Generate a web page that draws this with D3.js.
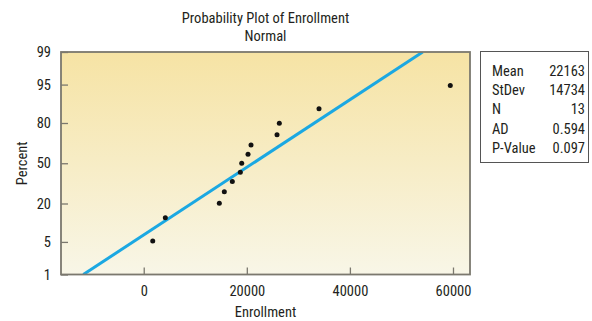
<!DOCTYPE html>
<html>
<head>
<meta charset="utf-8">
<script src="https://cdn.jsdelivr.net/npm/d3@7"></script>
<style>
  html, body { margin: 0; padding: 0; background: #fff; }
  svg { display: block; }
  text { font-family: "Liberation Sans Narrow", "Roboto Condensed", "DejaVu Sans Condensed", "Liberation Sans", sans-serif; fill: #231f20; }
</style>
</head>
<body>
<script>
// ---- data ----
const enrollment = [1746, 4190, 14665, 15635, 17187, 18739, 19011, 20233, 20815, 25859, 26305, 34006, 59476];
const percent = [5.2, 12.7, 20.1, 27.6, 35.1, 42.5, 50, 57.5, 64.9, 72.4, 79.9, 87.3, 94.8];
const fitLineX = [-11717, 54122];
const fitLineP = [1, 99];
const yTickValues = [1, 5, 20, 50, 80, 95, 99];
const xTickValues = [0, 20000, 40000, 60000];
const statLabels = ["Mean", "StDev", "N", "AD", "P-Value"];
const statValues = ["22163", "14734", "13", "0.594", "0.097"];
const titleLines = ["Probability Plot of Enrollment", "Normal"];
const xTitle = "Enrollment";
const yTitle = "Percent";

// inverse normal CDF (Acklam)
function normInv(p) {
  const a = [-3.969683028665376e+01, 2.209460984245205e+02, -2.759285104469687e+02, 1.383577518672690e+02, -3.066479806614716e+01, 2.506628277459239e+00];
  const b = [-5.447609879822406e+01, 1.615858368580409e+02, -1.556989798598866e+02, 6.680131188771972e+01, -1.328068155288572e+01];
  const c = [-7.784894002430293e-03, -3.223964580411365e-01, -2.400758277161838e+00, -2.549732539343734e+00, 4.374664141464968e+00, 2.938163982698783e+00];
  const d = [7.784695709041462e-03, 3.224671290700398e-01, 2.445134137142996e+00, 3.754408661907416e+00];
  const pl = 0.02425, ph = 1 - pl;
  let q, r;
  if (p < pl) {
    q = Math.sqrt(-2 * Math.log(p));
    return (((((c[0]*q+c[1])*q+c[2])*q+c[3])*q+c[4])*q+c[5]) / ((((d[0]*q+d[1])*q+d[2])*q+d[3])*q+1);
  } else if (p <= ph) {
    q = p - 0.5; r = q*q;
    return (((((a[0]*r+a[1])*r+a[2])*r+a[3])*r+a[4])*r+a[5])*q / (((((b[0]*r+b[1])*r+b[2])*r+b[3])*r+b[4])*r+1);
  } else {
    q = Math.sqrt(-2 * Math.log(1 - p));
    return -(((((c[0]*q+c[1])*q+c[2])*q+c[3])*q+c[4])*q+c[5]) / ((((d[0]*q+d[1])*q+d[2])*q+d[3])*q+1);
  }
}

const W = 592, H = 321;
const plot = { left: 61, right: 470, top: 52, bottom: 274.5 };
const FS = 14.5;

const svg = d3.select("body").append("svg").attr("width", W).attr("height", H);

const x = d3.scaleLinear().domain([-16050, 63300]).range([plot.left, plot.right]);
const zScale = d3.scaleLinear().domain([normInv(0.01), normInv(0.99)]).range([plot.bottom, plot.top]);
const y = p => zScale(normInv(p / 100));

// gradient background
const defs = svg.append("defs");
const grad = defs.append("linearGradient").attr("id", "bg").attr("x1", 0).attr("y1", 0).attr("x2", 0).attr("y2", 1);
grad.append("stop").attr("offset", "0%").attr("stop-color", "#f6e3a4");
grad.append("stop").attr("offset", "100%").attr("stop-color", "#f8f6e7");
defs.append("clipPath").attr("id", "clip").append("rect")
  .attr("x", plot.left).attr("y", plot.top).attr("width", plot.right - plot.left).attr("height", plot.bottom - plot.top);

svg.append("rect").attr("x", plot.left).attr("y", plot.top)
  .attr("width", plot.right - plot.left).attr("height", plot.bottom - plot.top)
  .attr("fill", "url(#bg)");

// fit line
svg.append("g").attr("clip-path", "url(#clip)").append("line")
  .attr("x1", x(fitLineX[0])).attr("y1", y(fitLineP[0]))
  .attr("x2", x(fitLineX[1])).attr("y2", y(fitLineP[1]))
  .attr("stroke", "#1ba8e2").attr("stroke-width", 3);

// points
svg.append("g").selectAll("circle").data(enrollment).join("circle")
  .attr("cx", d => x(d)).attr("cy", (d, i) => y(percent[i]))
  .attr("r", 2.5).attr("fill", "#111");

// frame
svg.append("rect").attr("x", plot.left).attr("y", plot.top)
  .attr("width", plot.right - plot.left).attr("height", plot.bottom - plot.top)
  .attr("fill", "none").attr("stroke", "#7b786e").attr("stroke-width", 1.8);

// y axis
const yAxis = d3.axisLeft(zScale)
  .tickValues(yTickValues.map(p => normInv(p / 100)))
  .tickFormat((d, i) => yTickValues[i])
  .tickSizeInner(-7).tickSizeOuter(0).tickPadding(10);
const gy = svg.append("g").attr("transform", `translate(${plot.left},0)`).call(yAxis);
gy.select(".domain").remove();
gy.selectAll(".tick line").attr("stroke", "#7b786e").attr("stroke-width", 1.3);
gy.selectAll(".tick text").attr("font-size", FS).attr("fill", "#231f20");

// x axis
const xAxis = d3.axisBottom(x).tickValues(xTickValues).tickFormat(d3.format("d"))
  .tickSizeInner(-7).tickSizeOuter(0).tickPadding(11);
const gx = svg.append("g").attr("transform", `translate(0,${plot.bottom})`).call(xAxis);
gx.select(".domain").remove();
gx.selectAll(".tick line").attr("stroke", "#7b786e").attr("stroke-width", 1.3);
gx.selectAll(".tick text").attr("font-size", FS).attr("fill", "#231f20");
svg.selectAll("g").filter(function(){ return this.getAttribute("font-family"); }).attr("font-family", null).attr("font-size", null);

// titles
svg.append("g").selectAll("text").data(titleLines).join("text")
  .attr("x", (plot.left + plot.right) / 2).attr("y", (d, i) => 23 + i * 18)
  .attr("text-anchor", "middle").attr("font-size", FS).text(d => d);

svg.append("text").attr("x", (plot.left + plot.right) / 2).attr("y", 316.5)
  .attr("text-anchor", "middle").attr("font-size", FS).text(xTitle);

svg.append("text").attr("transform", `translate(27,${(plot.top + plot.bottom) / 2}) rotate(-90)`)
  .attr("text-anchor", "middle").attr("font-size", FS).text(yTitle);

// stats box
svg.append("rect").attr("x", 480.5).attr("y", 51.5).attr("width", 108).attr("height", 111)
  .attr("fill", "#fff").attr("stroke", "#555", ).attr("stroke-width", 1);
const rows = svg.append("g").selectAll("g").data(statLabels).join("g")
  .attr("transform", (d, i) => `translate(0,${76 + i * 19.2})`);
rows.append("text").attr("x", 492).attr("font-size", FS).text(d => d);
rows.append("text").attr("x", 585).attr("text-anchor", "end").attr("font-size", FS).text((d, i) => statValues[i]);
</script>
</body>
</html>
